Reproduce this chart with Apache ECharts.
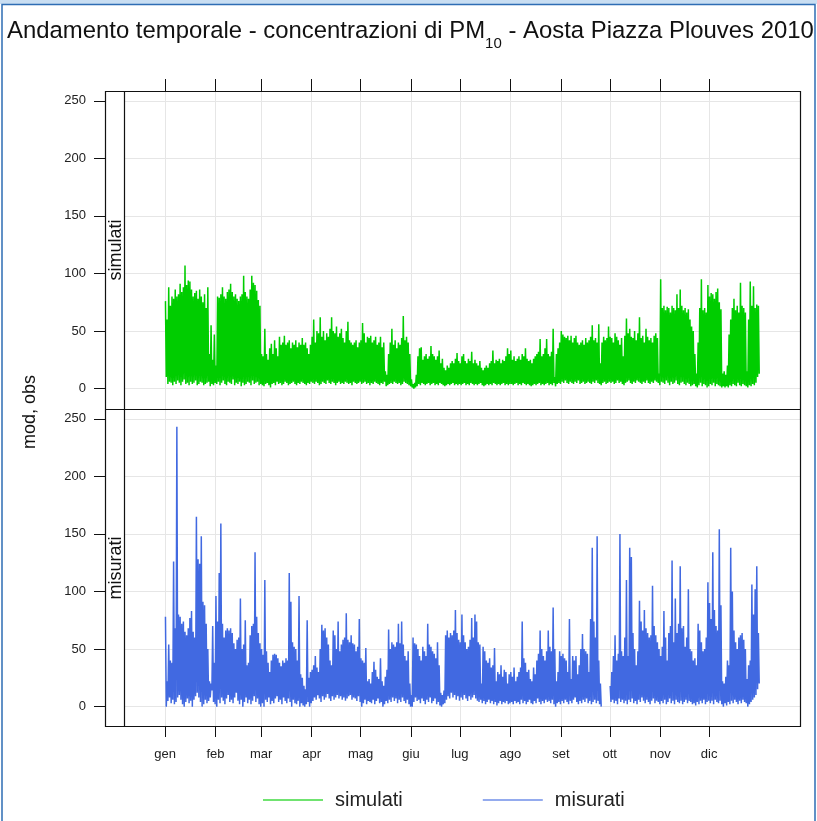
<!DOCTYPE html>
<html>
<head>
<meta charset="utf-8">
<script src="https://cdn.jsdelivr.net/npm/echarts@6/dist/echarts.min.js"></script>
<style>
  html, body { margin: 0; padding: 0; background: #fff; }
  #chart { width: 817px; height: 821px; }
</style>
</head>
<body>
<div id="chart"></div>
<script>
// Month labels and the day of year (from 1 January) on which each month starts
const months = ['gen', 'feb', 'mar', 'apr', 'mag', 'giu', 'lug', 'ago', 'set', 'ott', 'nov', 'dic'];
const monthStart = [0, 31, 59, 90, 120, 151, 181, 212, 243, 273, 304, 334];
const yTicks = [0, 50, 100, 150, 200, 250];

// PM10 simulated: daily maximum and minimum (µg/m3), one value per day of 2010
const simHi = [
  76,60,88,72,80,78,86,80,82,91,84,88,107,90,94,93,86,80,83,85,78,86,80,75,82,70,88,30,55,25,47,
  20,80,79,82,88,80,78,84,86,91,84,80,82,78,76,80,82,98,84,80,78,86,98,92,90,85,77,72,
  30,28,52,30,25,35,39,30,42,35,28,45,38,40,46,38,40,42,35,40,38,42,36,40,38,44,38,40,35,30,38,
  45,60,40,50,48,62,45,50,42,48,45,52,62,50,48,54,45,48,52,44,40,50,58,42,40,38,40,42,36,40,
  42,57,48,40,45,44,46,40,42,45,38,40,45,36,40,15,12,30,40,52,38,42,35,40,38,44,63,42,45,40,30,
  8,4,5,12,28,35,36,25,28,30,26,28,37,30,28,25,28,33,22,26,18,16,20,18,22,24,22,26,31,24,
  22,28,30,24,22,26,24,32,22,25,22,20,24,18,16,18,20,18,22,24,33,22,25,24,26,22,25,24,28,35,30,
  33,25,28,24,26,28,25,30,28,35,26,24,25,22,26,28,30,32,43,28,30,35,43,30,28,32,52,10,30,35,40,
  50,47,45,44,46,42,46,40,44,46,40,38,40,42,38,44,40,42,45,55,42,44,40,56,22,40,45,42,44,54,
  45,44,40,48,45,42,38,44,28,46,61,48,52,45,44,50,42,48,62,44,46,40,52,45,42,44,40,46,48,44,13,
  95,70,72,68,71,70,66,72,70,68,82,70,86,72,68,70,66,69,60,54,50,30,13,40,70,95,68,70,66,90,
  80,83,82,78,84,87,75,69,13,15,12,20,47,60,70,78,68,72,66,92,72,70,66,15,60,93,72,89,70,73,72
];
const simLo = [
  10,4,6,5,3,6,4,7,5,3,6,8,4,5,3,6,4,5,7,3,4,6,5,3,4,5,6,2,4,3,5,
  4,6,3,5,7,4,3,6,5,4,8,3,5,4,6,2,5,3,4,6,5,3,7,4,5,6,3,4,
  3,2,4,5,3,1,4,5,3,6,4,5,3,4,6,5,3,4,5,6,4,3,5,4,6,5,4,3,5,4,6,
  5,4,6,5,3,4,6,5,4,7,5,4,6,5,3,5,6,4,5,4,6,5,4,5,3,6,5,4,5,6,
  4,5,6,4,5,3,5,4,6,5,4,3,5,4,6,2,3,4,5,4,6,5,4,5,3,4,6,5,4,3,2,
  1,0,1,2,4,3,5,4,3,4,5,3,4,5,3,4,3,5,4,3,2,3,4,3,4,5,3,4,3,4,
  3,4,5,3,4,3,5,4,3,4,3,4,5,3,2,3,4,3,4,3,5,4,3,4,3,4,5,3,4,3,4,
  4,3,4,5,3,4,3,5,4,3,4,3,2,3,4,3,4,5,3,4,3,4,5,3,4,3,5,2,4,5,4,
  6,5,7,5,4,6,5,4,6,5,7,4,5,6,4,5,6,5,4,6,5,7,5,4,3,5,6,4,5,6,
  5,6,4,5,7,5,6,4,3,5,6,7,5,4,6,5,7,6,5,4,6,5,7,5,4,6,5,7,6,5,3,
  6,5,4,7,5,3,6,4,5,7,4,3,5,6,4,3,5,4,2,3,4,2,1,3,5,2,4,3,1,2,
  4,3,5,2,4,3,2,1,2,1,2,1,3,2,4,3,2,5,3,2,4,3,2,1,3,2,4,3,5,10,13
];

// PM10 measured: daily maximum and minimum (µg/m3); null = no data
const measHi = [
  78,22,54,40,38,126,68,243,80,78,72,74,65,62,68,77,83,65,60,165,128,124,148,91,88,72,50,22,20,70,38,
  96,74,116,159,72,60,66,68,66,68,64,55,50,58,60,94,50,54,75,36,38,62,70,72,134,78,64,55,
  50,45,110,48,38,30,40,45,46,45,42,38,35,40,38,42,40,116,91,56,52,50,40,96,28,25,18,15,75,25,30,
  32,36,44,34,30,50,71,66,68,60,54,40,36,66,62,50,74,48,54,58,60,81,58,56,62,55,54,48,52,76,
  42,40,38,51,22,24,20,30,39,32,26,24,42,22,18,26,32,67,50,56,54,52,56,72,55,74,54,44,40,48,20,
  10,60,55,54,50,44,40,52,48,44,72,54,52,48,46,42,56,36,12,10,14,62,66,60,64,62,66,84,64,58,
  56,80,62,56,50,52,58,77,60,80,74,56,54,20,52,48,40,38,42,34,36,51,22,30,28,36,26,32,30,20,28,
  30,26,34,22,26,30,34,74,42,38,30,32,24,22,34,28,40,46,66,50,44,40,48,66,52,48,86,50,22,30,48,
  44,46,42,40,30,76,24,44,40,44,28,36,50,63,50,48,46,30,76,138,74,60,148,40,20,null,null,null,null,null,
  18,30,44,62,40,46,150,48,44,60,110,44,138,130,64,50,36,48,92,74,66,84,68,64,60,62,105,70,62,56,50,
  44,52,83,60,40,64,70,127,56,94,64,72,122,68,70,52,60,102,50,48,40,42,36,72,66,56,48,50,60,108,
  90,76,134,84,70,66,154,88,22,20,26,40,36,138,100,66,56,50,60,62,64,58,50,24,36,40,106,80,102,122,64
];
const measLo = [
  0,5,8,3,6,2,4,8,10,6,2,0,4,7,3,5,0,6,9,12,8,4,0,2,6,3,5,8,14,4,2,
  0,6,3,8,5,2,7,10,4,6,3,8,12,5,2,6,0,4,8,3,6,2,5,9,4,7,2,0,
  3,0,6,4,8,2,5,3,7,9,4,6,2,8,5,3,7,4,0,6,3,2,5,0,3,1,0,2,4,0,3,
  5,8,6,10,7,4,9,6,8,11,7,5,9,6,8,10,7,9,6,8,5,7,9,10,6,8,7,5,9,4,
  0,3,6,2,5,4,3,6,2,5,7,3,4,0,2,5,3,6,4,8,5,7,3,6,4,8,5,3,6,2,0,
  0,4,8,5,6,3,7,5,2,6,4,8,3,5,7,2,4,1,0,2,3,6,9,7,12,8,10,6,9,5,
  8,6,10,7,5,9,6,8,10,7,5,4,6,3,5,2,4,6,3,5,2,4,1,3,5,2,4,3,5,2,3,
  4,2,5,3,4,2,6,3,5,2,4,6,3,2,5,3,7,4,2,5,3,6,4,5,3,6,2,0,3,4,2,
  5,3,6,4,2,5,3,6,8,4,2,5,3,6,4,7,3,5,2,4,6,3,5,2,0,null,null,null,null,null,
  4,6,3,5,2,7,4,6,3,5,2,6,4,7,3,5,2,6,4,8,5,3,6,4,2,5,7,3,5,4,2,
  5,3,6,2,4,7,3,5,2,6,4,3,5,2,4,6,3,5,4,2,3,1,4,2,5,3,6,2,4,5,
  3,5,2,6,4,3,5,2,0,3,1,4,2,5,3,6,4,2,5,3,6,4,3,0,2,4,6,8,10,15,20
];

// Each day is drawn as its maximum followed by its minimum, so the line sweeps the daily range
function dailyTrace(hi, lo) {
  const pts = [];
  for (let d = 0; d < hi.length; d++) {
    if (hi[d] == null) { pts.push([d + 0.5, '-']); continue; }
    pts.push([d + 0.25, hi[d]]);
    pts.push([d + 0.75, lo[d]]);
  }
  return pts;
}

const FONT = 'Liberation Sans, Arial, sans-serif';
const GREEN = '#00CD00';
const BLUE = '#4169E1';
const GRID_COLOR = '#e6e6e6';
const X_MIN = -25.2, X_MAX = 390.4;
const Y_MIN = -17.7, Y_MAX = 258.5;

function xAxisFor(gridIndex, bottom) {
  return {
    gridIndex, type: 'value', min: X_MIN, max: X_MAX,
    position: bottom ? 'bottom' : 'top',
    axisLine: { show: false, onZero: false },
    axisTick: { show: true, customValues: monthStart, length: bottom ? 10 : 12, lineStyle: { color: '#111', width: 1 } },
    axisLabel: bottom ? {
      show: true, customValues: monthStart, margin: 21, fontSize: 13, color: '#222', fontFamily: FONT,
      formatter: v => months[monthStart.indexOf(v)]
    } : { show: false },
    splitLine: { show: true, lineStyle: { color: GRID_COLOR, width: 1 } }
  };
}
function yAxisFor(gridIndex) {
  return {
    gridIndex, type: 'value', min: Y_MIN, max: Y_MAX, offset: 19,
    axisLine: { show: false, onZero: false },
    axisTick: { show: true, customValues: yTicks, length: 11, lineStyle: { color: '#111', width: 1 } },
    axisLabel: { show: true, customValues: yTicks, margin: 19, fontSize: 13, color: '#222', fontFamily: FONT },
    splitLine: { show: true, lineStyle: { color: GRID_COLOR, width: 1 } }
  };
}

const chart = echarts.init(document.getElementById('chart'), null, { renderer: 'canvas' });
chart.setOption({
  animation: false,
  backgroundColor: '#ffffff',
  textStyle: { fontFamily: FONT },
  title: {
    left: 2, top: 12,
    text: '{t|Andamento temporale - concentrazioni di PM}{s|10}{t| - Aosta Piazza Plouves 2010}',
    textStyle: {
      fontWeight: 'normal',
      rich: {
        t: { fontSize: 23.9, color: '#111', fontFamily: FONT, fontWeight: 'normal', lineHeight: 28, verticalAlign: 'middle' },
        s: { fontSize: 15, color: '#111', fontFamily: FONT, fontWeight: 'normal', lineHeight: 15, verticalAlign: 'bottom', padding: [0, 0, -6, 0] }
      }
    }
  },
  legend: {
    left: 258, top: 785,
    icon: 'rect', itemWidth: 60, itemHeight: 1.5, itemGap: 80,
    itemStyle: { opacity: 0.75 },
    textStyle: { fontSize: 20, color: '#222', fontFamily: FONT, padding: [0, 0, 0, 7] },
    data: ['simulati', 'misurati']
  },
  grid: [
    { left: 124, top: 91, width: 677, height: 318, show: false },
    { left: 124, top: 409, width: 677, height: 318, show: false }
  ],
  xAxis: [xAxisFor(0, false), xAxisFor(1, true)],
  yAxis: [yAxisFor(0), yAxisFor(1)],
  series: [
    {
      name: 'simulati', type: 'line', xAxisIndex: 0, yAxisIndex: 0,
      data: dailyTrace(simHi, simLo), symbol: 'none', connectNulls: false,
      itemStyle: { color: GREEN }, lineStyle: { color: GREEN, width: 1.5 }
    },
    {
      name: 'misurati', type: 'line', xAxisIndex: 1, yAxisIndex: 1,
      data: dailyTrace(measHi, measLo), symbol: 'none', connectNulls: false,
      itemStyle: { color: BLUE }, lineStyle: { color: BLUE, width: 1.5 }
    }
  ],
  graphic: [
    // window frame
    { type: 'rect', shape: { x: 0, y: 0, width: 817, height: 4 }, style: { fill: '#c9def2' }, silent: true },
    { type: 'rect', shape: { x: 2, y: 4.5, width: 813, height: 820 }, style: { fill: 'none', stroke: '#2e6db4', lineWidth: 1.5 }, silent: true },
    // panel frame, strip column and panel divider
    { type: 'rect', shape: { x: 105.5, y: 91.5, width: 695, height: 635 }, style: { fill: 'none', stroke: '#111', lineWidth: 1.2 }, z: 10, silent: true },
    { type: 'line', shape: { x1: 124.5, y1: 91.5, x2: 124.5, y2: 726.5 }, style: { stroke: '#111', lineWidth: 1.2 }, z: 10, silent: true },
    { type: 'line', shape: { x1: 105.5, y1: 409.5, x2: 800.5, y2: 409.5 }, style: { stroke: '#111', lineWidth: 1.2 }, z: 10, silent: true },
    // strip labels
    { type: 'text', x: 116, y: 250, rotation: Math.PI / 2, style: { text: 'simulati', fontSize: 18, fill: '#111', fontFamily: FONT, align: 'center', verticalAlign: 'middle' }, z: 10 },
    { type: 'text', x: 116, y: 568, rotation: Math.PI / 2, style: { text: 'misurati', fontSize: 18, fill: '#111', fontFamily: FONT, align: 'center', verticalAlign: 'middle' }, z: 10 },
    // y-axis title
    { type: 'text', x: 30, y: 412, rotation: Math.PI / 2, style: { text: 'mod, obs', fontSize: 18, fill: '#111', fontFamily: FONT, align: 'center', verticalAlign: 'middle' }, z: 10 }
  ]
});
</script>
</body>
</html>
